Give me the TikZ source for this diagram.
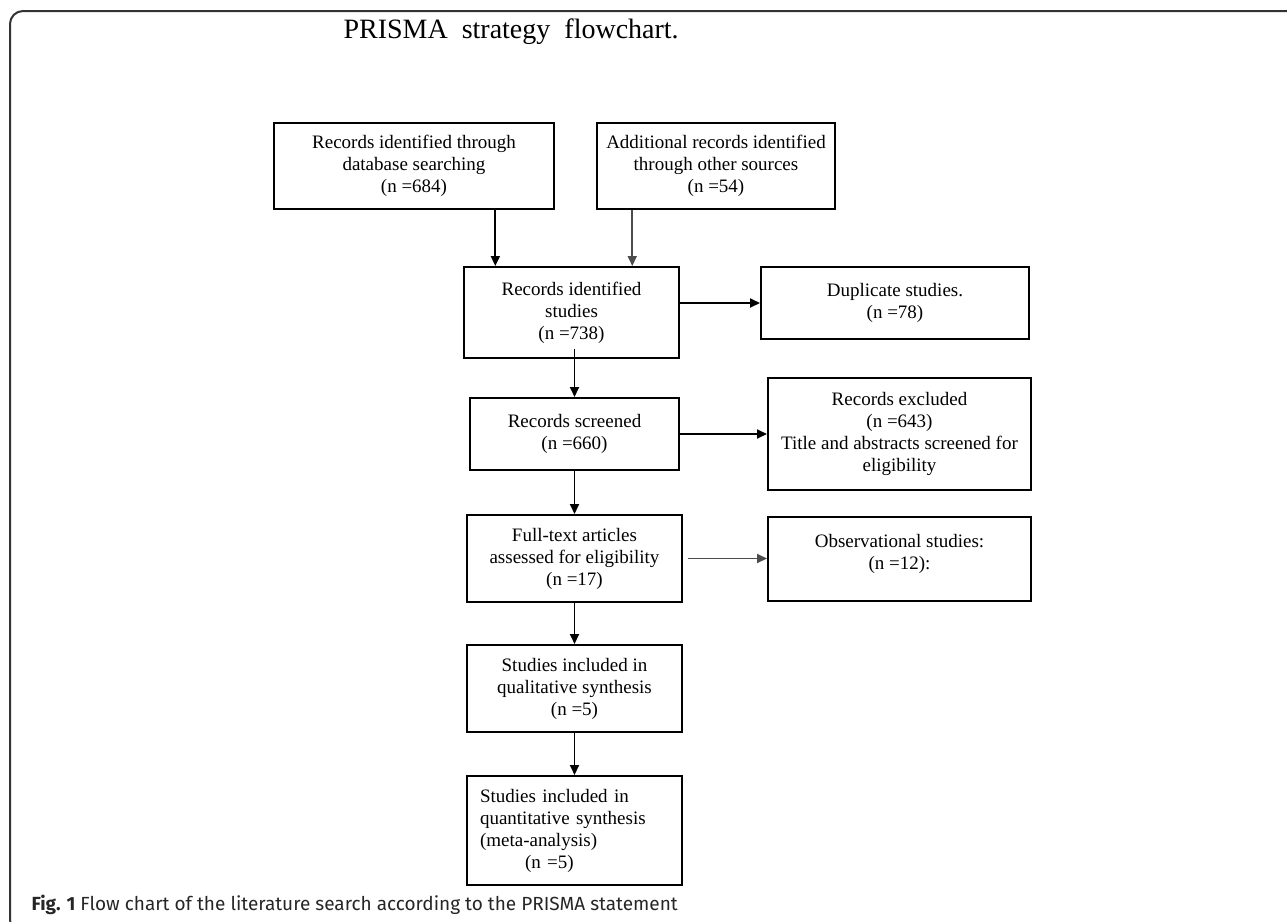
\documentclass[tikz,border=0pt]{standalone}
\usepackage{fontspec}
\setmainfont{Liberation Serif}
\newfontfamily\capfont{Fira Sans}
\usetikzlibrary{arrows.meta, positioning, calc}

\begin{document}
\begin{tikzpicture}[
        x=1pt, y=-1pt,
        box/.style={rectangle, draw, line width=2pt, align=center, inner sep=0pt, font=\fontsize{19}{22}\selectfont},
        arrow/.style={-{Triangle[length=10pt, width=9pt]}, line width=1.8pt}
        ]
        \useasboundingbox (0,0) rectangle (1287,921);
        % frame
        \draw[line width=2pt, draw=black!80, rounded corners=13pt] (1320,11) -- (10,11) -- (10,933) -- (1320,933);
        \node (title) [anchor=base west, font=\fontsize{28}{32}\selectfont] at (340,38) {PRISMA\ \ strategy\ \ flowchart.};

        \node (db) [box, minimum width=280pt, minimum height=86pt] at (414,166) {Records identified through\\ database searching\\ (n =684)};
        \node (other) [box, minimum width=238pt, minimum height=86pt] at (716,166) {Additional records identified\\ through other sources\\ (n =54)};
        \node (ident) [box, minimum width=215pt, minimum height=91pt] at (571.5,312.5) {Records identified\\ studies\\ (n =738)};
        \node (dup) [box, minimum width=268pt, minimum height=72pt] at (895,303) {Duplicate studies.\\ (n =78)};
        \node (screen) [box, minimum width=209pt, minimum height=72pt, below=38pt of ident, xshift=3pt] {Records screened\\ (n =660)};
        \node (excl) [box, minimum width=263pt, minimum height=112pt, right=87pt of screen] {Records excluded\\ (n =643)\\ Title and abstracts screened for\\ eligibility};
        \node (full) [box, minimum width=215pt, minimum height=87pt, below=43pt of screen] {Full-text articles\\ assessed for eligibility\\ (n =17)};
        \node (obs) [box, minimum width=263pt, minimum height=84pt, right=84pt of full] {Observational studies:\\ (n =12):\\[-8pt] \mbox{}};
        \node (qual) [box, minimum width=215pt, minimum height=87pt, below=41pt of full] {Studies included in\\ qualitative synthesis\\ (n =5)};
        \node (quant) [box, minimum width=215pt, minimum height=109pt, text width=189pt, align=left, below=42pt of qual] {Studies included in\\ quantitative synthesis\\ (meta-analysis)\\ \hspace*{45pt}(n =5)};

        \node (caption) [anchor=base west, font=\capfont\fontsize{19}{22}\selectfont, text=black!85] at (28,910) {\textbf{Fig. 1} Flow chart of the literature search according to the PRISMA statement};

        \coordinate (in1) at ($(ident.north west)!0.149!(ident.north east)$);
        \coordinate (in2) at ($(ident.north west)!0.78!(ident.north east)$);
        \draw [arrow] (db.south -| in1) -- (in1);
        \draw [arrow, draw=black!70] (other.south -| in2) -- (in2);
        \draw [arrow] (ident.east |- dup.west) -- (dup.west);
        \draw [arrow] ([yshift=10pt]ident.south -| screen.north) -- (screen.north);
        \draw [arrow] (screen.east) -- (screen.east -| excl.west);
        \draw [arrow] (screen) -- (full);
        \draw [arrow, draw=black!70, shorten <=5pt] (full.east) -- (full.east -| obs.west);
        \draw [arrow] (full) -- (qual);
        \draw [arrow] (qual) -- (quant);
    \end{tikzpicture}
\end{document}
